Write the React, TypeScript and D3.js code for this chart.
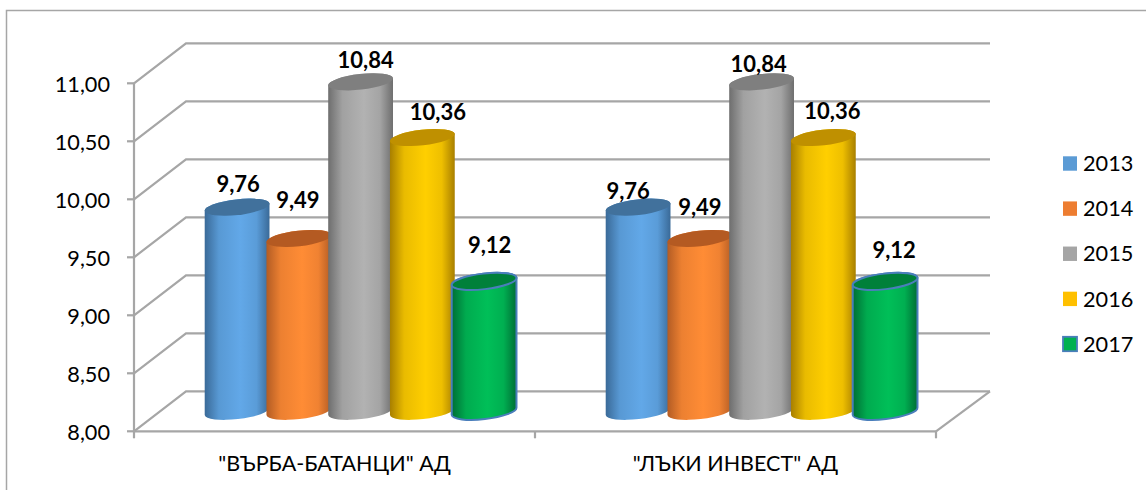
import React from "react";
import * as d3 from "d3";

const categories = ['"ВЪРБА-БАТАНЦИ" АД', '"ЛЪКИ ИНВЕСТ" АД'];
const years = ["2013", "2014", "2015", "2016", "2017"];
const values2013 = [9.76, 9.76];
const values2014 = [9.49, 9.49];
const values2015 = [10.84, 10.84];
const values2016 = [10.36, 10.36];
const values2017 = [9.12, 9.12];
const seriesValues = [values2013, values2014, values2015, values2016, values2017];
const yTicks = [8, 8.5, 9, 9.5, 10, 10.5, 11];

const swatch = ["#5b9bd5", "#ed7d31", "#a5a5a5", "#ffc000", "#00b050"];
const edge = ["#3a6a98", "#b35c24", "#6e6e6e", "#a87f00", "#006e35"];
const mid = ["#62a8e8", "#ff8c35", "#b2b2b2", "#ffcf00", "#00bf58"];
const cap = ["#41719c", "#b45a22", "#7f7f7f", "#bf9000", "#00803a"];

const FONT = "Lato, Carlito, 'Open Sans', sans-serif";
const GRID = "#a6a6a6";
const labelOffsets = [
  [[1, -14.8], [-10, -7.8]],
  [[-1, -30.5], [0, -23.2]],
  [[5, -13.9], [-3, -9.9]],
  [[15.6, -17.2], [9, -18.2]],
  [[5.5, -28.4], [9, -23.4]],
];

const fmt = (v: number) => v.toFixed(2).replace(".", ",");

export default function App() {
  const depthX = 52;
  const depthY = 40;
  const x0 = 134;
  const x1 = 936;
  const y = d3.scaleLinear().domain([8, 11]).range([431.3, 83.3]);
  const mx = d3.scaleBand<number>().domain([0, 1]).range([x0, x1]);
  const rx = 32.6;
  const ry = 7.8;
  const tilt = -6.5;
  const step = 61.75;
  const groupLeft = (g: number) => (mx(g) as number) + 70.5;
  const midY = (v: number) => y(v) - depthY / 2;

  const cyl = (cx: number, yTop: number, yBot: number) => {
    const t = (tilt * Math.PI) / 180;
    const dx = rx * Math.cos(t);
    const dy = rx * Math.sin(t);
    return `M${cx - dx},${yTop - dy} L${cx - dx},${yBot - dy} A${rx},${ry} ${tilt} 0 0 ${cx + dx},${yBot + dy} L${cx + dx},${yTop + dy} A${rx},${ry} ${tilt} 0 0 ${cx - dx},${yTop - dy} Z`;
  };

  return (
    <svg width={1146} height={490} style={{ position: "absolute", left: 0, top: 0 }} fontFamily={FONT}>
      <defs>
        {years.map((yr, i) => (
          <linearGradient key={yr} id={`g${i}`} x1="0" x2="1" y1="0" y2="0">
            <stop offset="0" stopColor={edge[i]} />
            <stop offset="0.22" stopColor={d3.interpolateRgb(edge[i], mid[i])(0.75)} />
            <stop offset="0.55" stopColor={mid[i]} />
            <stop offset="0.8" stopColor={d3.interpolateRgb(edge[i], mid[i])(0.8)} />
            <stop offset="1" stopColor={edge[i]} />
          </linearGradient>
        ))}
      </defs>
      <rect x={6.5} y={10.5} width={1160} height={500} fill="#fff" stroke="#a6a6a6" strokeWidth={1.5} />

      {yTicks.map((t) => (
        <g key={t} stroke={GRID} strokeWidth={2.2} fill="none">
          <polyline points={`${x0},${y(t)} ${x0 + depthX},${y(t) - depthY} ${x1 + depthX + 2},${y(t) - depthY}`} />
          <line x1={x0 - 7} x2={x0} y1={y(t)} y2={y(t)} />
        </g>
      ))}
      <g stroke={GRID} strokeWidth={2.2} fill="none">
        <line x1={x0} x2={x0} y1={y(11)} y2={y(8)} />
        <line x1={x0} x2={x1} y1={y(8)} y2={y(8)} />
        <line x1={x1} x2={x1 + depthX + 2} y1={y(8)} y2={y(8) - depthY} />
        {[0, 1, 2].map((k) => {
          const px = x0 + (k * (x1 - x0)) / 2;
          return <line key={k} x1={px} x2={px} y1={y(8)} y2={y(8) + 7} />;
        })}
      </g>

      {yTicks.map((t) => (
        <text key={t} x={110} y={y(t) + 9} textAnchor="end" fontSize={21.7} fill="#000">
          {fmt(t)}
        </text>
      ))}

      {categories.map((c, g) => (
        <g key={c}>
          {seriesValues.map((vals, s) => {
            const cx = groupLeft(g) + rx + s * step;
            const top = midY(vals[g]);
            const bot = midY(8);
            const stroke = s === 4 ? "#4a7ebb" : "none";
            return (
              <g key={s}>
                <path d={cyl(cx, top, bot)} fill={`url(#g${s})`} stroke={stroke} strokeWidth={2} />
                <ellipse cx={cx} cy={top} rx={rx} ry={ry} transform={`rotate(${tilt} ${cx} ${top})`} fill={cap[s]} stroke={stroke} strokeWidth={2} />
              </g>
            );
          })}
          <text x={(mx(g) as number) + mx.bandwidth() / 2} y={470.5} textAnchor="middle" fontSize={21.5} fill="#000">
            {c}
          </text>
        </g>
      ))}

      {categories.map((c, g) =>
        seriesValues.map((vals, s) => {
          const cx = groupLeft(g) + rx + s * step;
          const [dx, dy] = labelOffsets[s][g];
          return (
            <text key={`${c}${s}`} x={cx + dx} y={midY(vals[g]) + dy} textAnchor="middle" fontSize={22} fontWeight={700} fill="#000">
              {fmt(vals[g])}
            </text>
          );
        })
      )}

      {years.map((yr, i) => {
        const ly = d3.scalePoint<number>().domain([0, 1, 2, 3, 4]).range([163.5, 344]);
        const c = ly(i) as number;
        return (
          <g key={yr}>
            <rect x={1063} y={c - 7.2} width={14} height={14.4} fill={swatch[i]} stroke={i === 4 ? "#4a7ebb" : "none"} strokeWidth={1.8} />
            <text x={1083} y={c + 7.7} fontSize={21.7} fill="#000">{yr}</text>
          </g>
        );
      })}
    </svg>
  );
}
